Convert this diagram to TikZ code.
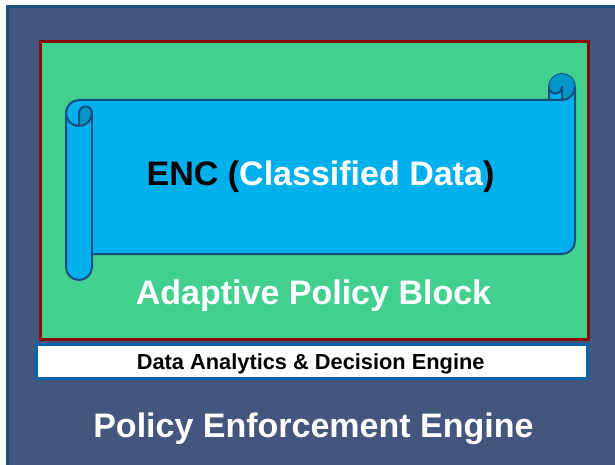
\documentclass[tikz,border=0pt]{standalone}
\usepackage{fontspec}
\setmainfont{Liberation Sans}
\definecolor{outerfill}{HTML}{43567D}
\definecolor{outerline}{HTML}{1B4F80}
\definecolor{greenfill}{HTML}{43D08F}
\definecolor{redline}{HTML}{860A0E}
\definecolor{whiteline}{HTML}{0A64AA}
\definecolor{scrollfill}{HTML}{00B0EC}
\definecolor{scrolldark}{HTML}{0096C8}
\definecolor{scrollline}{HTML}{1A4E7E}
\begin{document}
\begin{tikzpicture}[x=1pt,y=1pt,
  scrollstroke/.style={draw=scrollline,line width=2pt,line join=round,line cap=round},
  bigtext/.style={font=\bfseries\fontsize{34}{40}\selectfont,anchor=base,inner sep=0pt},
  smalltext/.style={font=\bfseries\fontsize{21.8}{26}\selectfont,anchor=base,inner sep=0pt}]
\useasboundingbox (0,0) rectangle (615,464);
\clip (0,0) rectangle (615,464);
% outer engine box
\draw[line width=3pt,draw=outerline,fill=outerfill] (7,457) rectangle (650,-30);
% adaptive policy block
\draw[line width=3pt,draw=redline,fill=greenfill] (40,422.5) rectangle (588,124.5);
% data analytics box
\draw[line width=3pt,draw=whiteline,fill=white] (36.5,119.5) rectangle (587.5,85.5);
% scroll
\draw[scrollstroke,fill=scrollfill]
 (66,351) arc[start angle=180,end angle=90,radius=13] -- (549,364) -- (549,377)
 arc[start angle=180,end angle=0,radius=13] -- (575,223)
 arc[start angle=0,end angle=-90,radius=13] -- (92,210) -- (92,197)
 arc[start angle=0,end angle=-180,radius=13] -- cycle;
\fill[scrolldark] (79,338) arc[start angle=-90,end angle=0,radius=13]
 arc[start angle=0,end angle=180,radius=6.5] -- cycle;
\fill[scrolldark] (562,364) arc[start angle=-90,end angle=180,radius=13]
 arc[start angle=180,end angle=360,radius=6.5] -- cycle;
\draw[scrollstroke] (549,364) -- (562,364) arc[start angle=-90,end angle=0,radius=13];
\draw[scrollstroke] (562,364) -- (562,377) arc[start angle=0,end angle=-180,radius=6.5];
\draw[scrollstroke] (79,338) -- (79,351) arc[start angle=180,end angle=0,radius=6.5]
 arc[start angle=0,end angle=-180,radius=13];
\draw[scrollstroke] (92,351) -- (92,210);
% texts
\node[bigtext] (enc) at (320.5,278) {ENC (\textcolor{white}{Classified Data})};
\node[bigtext,text=white] (apb) at (313.5,160) {Adaptive Policy Block};
\node[smalltext] (dade) at (310.7,94.7) {Data Analytics \& Decision Engine};
\node[bigtext,text=white] (pee) at (313.4,26.7) {Policy Enforcement Engine};
\end{tikzpicture}
\end{document}
